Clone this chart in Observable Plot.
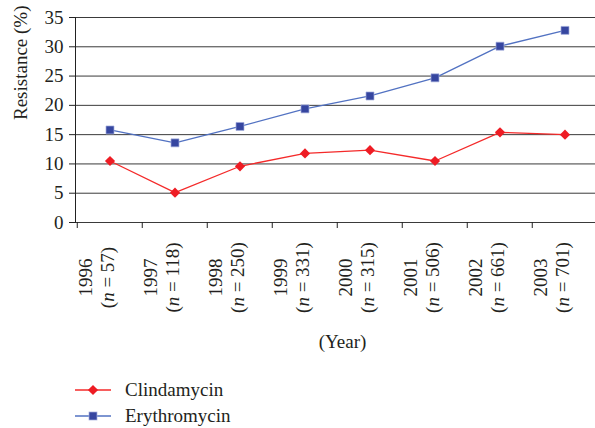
<!DOCTYPE html>
<html>
<head>
<meta charset="utf-8">
<script src="https://cdn.jsdelivr.net/npm/d3@7"></script>
<script src="https://cdn.jsdelivr.net/npm/@observablehq/plot@0.6"></script>
<style>
  body { margin: 0; background: #fff; width: 595px; height: 428px; overflow: hidden; }
  #legend { font-family: "Liberation Serif", serif; font-size: 19px; color: #231f20; padding-top: 5px; }
  .row { display: flex; align-items: center; height: 26px; }
  .row svg { flex: none; }
  .row span { margin-left: 5px; }
</style>
</head>
<body>
<div id="chart"></div>
<div id="legend"></div>
<script>
const years = ["1996", "1997", "1998", "1999", "2000", "2001", "2002", "2003"];
const nCounts = [57, 118, 250, 331, 315, 506, 661, 701];
const clindamycin = [10.5, 5.1, 9.6, 11.8, 12.35, 10.5, 15.4, 15.0];
const erythromycin = [15.8, 13.6, 16.4, 19.4, 21.6, 24.7, 30.1, 32.8];
const yTicks = [0, 5, 10, 15, 20, 25, 30, 35];
const seriesNames = ["Clindamycin", "Erythromycin"];

const rows = years.map((year, i) => ({ year, n: nCounts[i], clin: clindamycin[i], ery: erythromycin[i] }));

const left = 75, bw = 65.5;
const redLine = "#f42a2a", redMark = "#ee1c24";
const blueLine = "#5272c2", blueMark = "#3646a0", blueEdge = "#a4aedc";
const ink = "#231f20";

const chart = Plot.plot({
  width: 595,
  height: 372,
  marginLeft: left,
  marginRight: 0,
  marginTop: 17,
  marginBottom: 150,
  style: { fontFamily: "Liberation Serif, serif", fontSize: "19px", color: ink, background: "white" },
  x: { type: "band", domain: years, range: [left, left + bw * years.length], padding: 0 },
  y: { domain: [0, 35] },
  marks: [
    Plot.ruleY(yTicks, { stroke: "#3a3a3a", strokeWidth: 1 }),
    Plot.frame({ anchor: "left", stroke: "#222" }),
    Plot.axisY({ ticks: yTicks, tickSize: 6, tickPadding: 6, label: null, fontSize: 19, stroke: "#222" }),
    Plot.axisX({ tickSize: 6, tickFormat: () => "", dx: -bw / 2, label: null, stroke: "#222" }),
    Plot.line(rows, { x: "year", y: "ery", stroke: blueLine, strokeWidth: 1.3 }),
    Plot.line(rows, { x: "year", y: "clin", stroke: redLine, strokeWidth: 1.3 }),
    Plot.dot(rows, { x: "year", y: "ery", symbol: "square", r: 4.5, fill: blueMark, stroke: blueEdge, strokeWidth: 0.7 }),
    Plot.dot(rows, { x: "year", y: "clin", symbol: "diamond2", r: 4.6, fill: redMark }),
    Plot.text(rows, { x: "year", text: "year", frameAnchor: "bottom", rotate: -90, dx: -18, dy: 55, textAnchor: "middle", fontSize: 19, fill: ink }),
    Plot.text(rows, { x: "year", text: d => `(n = ${d.n})`, frameAnchor: "bottom", rotate: -90, dx: 4, dy: 55, textAnchor: "middle", fontSize: 19, fill: ink }),
    Plot.text(["(Year)"], { frameAnchor: "bottom", dx: 7, dy: 125, fontSize: 19, fill: ink }),
    Plot.text(["Resistance (%)"], { frameAnchor: "left", rotate: -90, dx: -55, fontSize: 19, fill: ink })
  ]
});

// italic "n"
d3.select(chart).selectAll("text").each(function () {
  const t = this.textContent;
  const m = /^\(n = (\d+)\)$/.exec(t);
  if (m) {
    this.textContent = "";
    const s = d3.select(this);
    s.append("tspan").text("(");
    s.append("tspan").attr("font-style", "italic").text("n");
    s.append("tspan").text(" = " + m[1] + ")");
  }
});

document.getElementById("chart").appendChild(chart);

// legend
const legend = d3.select("#legend");
const specs = [
  { name: seriesNames[0], line: redLine, kind: "diamond" },
  { name: seriesNames[1], line: blueLine, kind: "square" }
];
specs.forEach(s => {
  const row = legend.append("div").attr("class", "row");
  const svg = row.append("svg").attr("width", 120).attr("height", 26);
  svg.append("line").attr("x1", 75).attr("x2", 111).attr("y1", 13).attr("y2", 13)
    .attr("stroke", s.line).attr("stroke-width", 1.6);
  if (s.kind === "diamond") {
    svg.append("path").attr("d", d3.symbol(d3.symbolDiamond2, 66)()).attr("transform", "translate(93,13)").attr("fill", redMark);
  } else {
    svg.append("rect").attr("x", 89).attr("y", 9).attr("width", 8).attr("height", 8)
      .attr("fill", blueMark).attr("stroke", blueEdge).attr("stroke-width", 0.7);
  }
  row.append("span").text(s.name);
});
</script>
</body>
</html>
